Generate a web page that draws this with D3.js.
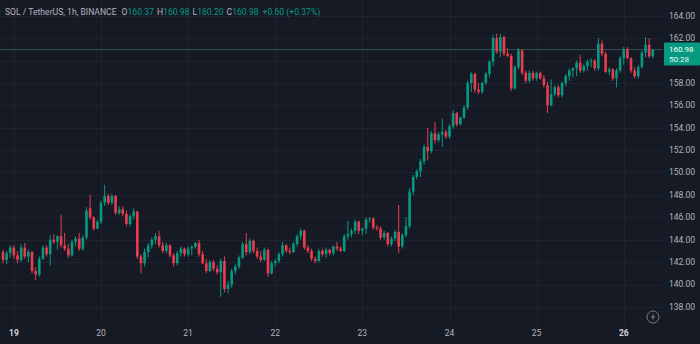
<!DOCTYPE html>
<html><head><meta charset="utf-8">
<script src="https://cdn.jsdelivr.net/npm/d3@7"></script>
<style>html,body{margin:0;padding:0;background:#161a25;overflow:hidden}svg{display:block}</style>
</head><body><svg id="c" width="700" height="344"></svg>
<script>
const startTime = "2025-05-18T21:00:00Z";
const opens = [142.9,142.2,142.8,143.3,142.6,142.2,143.3,142.5,142.9,141.2,140.9,142.3,143.3,142.7,144.0,143.8,144.3,143.5,143.2,142.6,143.8,144.1,143.2,144.2,146.8,146.0,145.0,145.6,147.3,147.9,147.3,147.9,146.4,146.7,146.3,145.4,146.1,146.5,142.5,141.9,142.9,143.5,144.0,144.3,143.5,143.0,143.5,142.6,141.9,142.8,143.2,142.7,143.2,143.35,143.7,142.7,141.9,141.2,142.0,141.4,141.1,142.1,139.6,140.0,141.2,141.6,142.4,143.6,142.9,143.9,143.0,142.5,142.2,143.1,141.0,141.9,142.1,142.7,143.5,143.0,142.9,143.6,144.3,144.8,143.3,143.0,142.3,142.1,143.0,142.7,143.1,142.8,143.4,143.2,143.0,144.3,144.5,144.8,145.6,144.8,145.0,145.8,145.9,145.1,145.0,144.2,144.6,143.6,144.1,144.7,143.4,144.4,145.2,148.3,149.6,150.1,151.0,152.3,151.9,153.5,152.9,153.4,153.6,153.2,154.1,155.3,154.3,154.9,155.8,158.0,158.8,157.4,157.2,158.0,158.8,159.9,162.0,160.8,162.1,160.6,160.4,157.5,159.4,160.9,158.9,158.2,158.9,158.4,158.9,158.4,157.8,156.0,157.0,157.6,156.9,158.0,158.6,159.1,159.3,159.8,159.1,159.5,159.9,160.0,159.3,161.5,160.6,159.0,159.2,158.4,159.1,160.2,161.0,160.2,159.1,158.6,159.4,160.7,161.4,160.37];
const highs = [143.1,143.0,143.5,143.5,143.0,143.6,143.7,143.1,143.0,141.5,142.5,143.5,143.5,144.4,144.5,144.4,146.2,144.6,143.6,144.0,144.3,144.6,144.4,146.9,148.0,146.1,145.8,147.5,148.9,148.1,148.1,148.0,147.0,147.0,146.6,146.3,146.8,146.6,142.7,143.2,143.7,144.2,144.6,144.8,143.8,143.7,143.6,142.8,143.0,143.4,143.3,143.4,143.5,143.8,144.0,143.0,142.3,142.2,142.2,141.7,142.3,142.5,140.3,141.4,141.8,142.6,143.8,144.6,144.1,144.0,143.3,143.0,143.3,143.2,142.1,142.3,142.9,143.8,143.6,143.3,143.8,144.5,145.0,144.9,143.5,143.2,142.5,143.2,143.2,143.3,143.2,143.5,143.8,143.4,144.5,145.7,145.0,145.8,145.7,145.1,146.0,146.0,146.0,145.3,145.2,144.8,144.7,144.3,144.9,147.1,144.6,146.0,148.6,149.8,150.3,151.2,152.5,154.0,153.7,154.5,153.6,154.8,153.8,154.3,155.6,155.4,155.0,156.0,158.2,159.0,158.9,158.0,158.1,159.0,160.0,162.3,162.4,162.4,162.2,161.1,160.6,159.6,161.1,161.0,159.1,159.1,159.1,159.0,159.0,158.7,158.1,158.3,157.8,157.8,158.1,158.8,159.3,159.4,160.0,160.5,159.7,160.1,160.2,160.1,162.0,161.8,160.8,159.4,159.3,159.3,160.4,161.2,161.2,160.3,159.4,159.6,160.9,162.1,162.0,160.98];
const lows = [141.9,141.8,142.4,142.3,141.9,142.0,142.3,142.0,141.0,140.4,140.7,142.2,142.5,141.7,143.6,143.1,143.3,143.0,142.4,142.5,143.4,143.0,143.0,144.0,145.8,144.8,144.9,145.4,147.0,147.1,147.1,146.2,146.2,146.1,145.2,145.2,145.8,142.3,141.0,141.6,142.4,143.2,143.6,143.3,142.8,142.8,142.4,141.6,141.7,142.5,142.5,142.5,142.6,143.2,142.5,141.8,141.0,141.1,141.2,140.9,138.9,139.3,139.2,139.7,140.9,141.4,142.3,142.6,142.7,142.8,142.3,142.0,142.1,140.7,140.9,141.6,141.9,142.5,142.8,142.7,142.8,143.4,144.0,143.1,142.8,142.1,141.9,142.0,142.5,142.4,142.6,142.6,143.0,142.9,142.9,144.0,144.2,144.5,144.5,144.4,144.5,145.5,144.9,144.8,144.0,144.0,143.4,143.4,143.9,142.8,143.2,144.2,145.0,148.0,149.4,149.6,150.7,151.1,151.7,152.6,152.7,152.3,153.0,153.0,153.9,154.1,154.2,154.8,155.6,157.2,157.1,157.0,157.0,157.8,158.5,159.5,160.6,160.3,160.4,160.3,157.3,157.4,159.2,158.7,158.0,158.0,158.2,158.2,158.3,157.6,155.3,155.9,156.8,156.7,156.7,157.7,158.2,158.5,158.6,158.9,158.9,159.1,159.4,159.1,159.1,160.4,158.9,158.7,158.2,157.6,158.9,159.6,160.1,158.9,158.4,158.4,159.3,160.3,160.2,160.20];
const closes = [142.2,142.8,143.3,142.6,142.2,143.3,142.5,142.9,141.2,140.9,142.3,143.3,142.7,144.0,143.8,144.3,143.5,143.2,142.6,143.8,144.1,143.2,144.2,146.6,146.0,145.0,145.6,147.3,147.9,147.3,147.9,146.4,146.7,146.3,145.4,146.1,146.5,142.5,141.9,142.9,143.5,144.0,144.3,143.5,143.0,143.5,142.6,141.9,142.8,143.2,142.7,143.2,143.35,143.7,142.7,141.9,141.2,142.0,141.4,141.1,142.1,139.6,140.0,141.2,141.6,142.4,143.6,142.9,143.9,143.0,142.5,142.2,143.1,141.0,141.9,142.1,142.7,143.5,143.0,142.9,143.6,144.3,144.8,143.3,143.0,142.3,142.1,143.0,142.7,143.1,142.8,143.4,143.2,143.0,144.3,144.5,144.8,145.6,144.8,145.0,145.8,145.9,145.1,145.0,144.2,144.6,143.6,144.1,144.7,143.4,144.4,145.2,148.3,149.6,150.1,151.0,152.3,151.9,153.5,152.9,153.4,153.6,153.2,154.1,155.3,154.3,154.9,155.8,158.0,158.8,157.4,157.2,158.0,158.8,159.9,162.0,160.8,162.1,160.6,160.4,157.5,159.4,160.9,158.9,158.2,158.9,158.4,158.9,158.4,157.8,156.0,157.0,157.6,156.9,158.0,158.6,159.1,159.3,159.8,159.1,159.5,159.9,160.0,159.3,161.5,160.6,159.0,159.2,158.4,159.1,160.2,161.0,160.2,159.1,158.6,159.4,160.7,161.4,160.37,160.98];
const priceTicks = [138,140,142,144,146,148,150,152,154,156,158,160,162,164];
const dayTicks = ["2025-05-19","2025-05-20","2025-05-21","2025-05-22","2025-05-23","2025-05-24","2025-05-25","2025-05-26"];
const dayLabels = ["19","20","21","22","23","24","25","26"];
const boldDays = ["19","26"];
const headerTitle = "SOL / TetherUS, 1h, BINANCE";
const ohlcLabels = ["O","H","L","C"];
const ohlcValues = ["160.37","160.98","160.20","160.98"];
const changeText = "+0.60 (+0.37%)";
const lastPrice = 160.98;
const countdown = "50:28";

const UP = "#089981", DOWN = "#eb3d4f", TXT = "#b2b5be", GRID = "#1f2330";
const FONT = "Roboto, 'Noto Sans', sans-serif";
const svg = d3.select("#c");
svg.append("rect").attr("width",700).attr("height",344).attr("fill","#161a25");

const t0 = new Date(startTime);
const data = closes.map((c,i)=>({t:new Date(t0.getTime()+i*3600e3),o:opens[i],h:highs[i],l:lows[i],c:c}));
const paneRight = 663, paneBottom = 325;
const x = d3.scaleUtc().domain([data[0].t, data[data.length-1].t]).range([3, 652.8]);
const y = d3.scaleLinear().domain([138,164]).range([306.9, 15.7]);

// grid
const g = svg.append("g");
g.selectAll(".hg").data(priceTicks).join("line")
  .attr("x1",0).attr("x2",paneRight).attr("y1",d=>Math.round(y(d))+0.5).attr("y2",d=>Math.round(y(d))+0.5)
  .attr("stroke",GRID).attr("stroke-width",1);
const dayDates = dayTicks.map(d=>new Date(d+"T00:00:00Z"));
g.selectAll(".vg").data(dayDates).join("line")
  .attr("x1",d=>Math.round(x(d))+0.5).attr("x2",d=>Math.round(x(d))+0.5).attr("y1",0).attr("y2",paneBottom)
  .attr("stroke",GRID).attr("stroke-width",1);

// price line
svg.append("line").attr("x1",0).attr("x2",paneRight).attr("y1",y(lastPrice)).attr("y2",y(lastPrice))
  .attr("stroke","#3d6f6a").attr("stroke-opacity",0.8).attr("stroke-width",0.8);

// candles
const bw = 2.6;
const cg = svg.append("g");
cg.selectAll(".w").data(data).join("line")
  .attr("x1",d=>x(d.t)).attr("x2",d=>x(d.t)).attr("y1",d=>y(d.h)).attr("y2",d=>y(d.l))
  .attr("stroke",d=>d.c>=d.o?UP:DOWN).attr("stroke-width",1);
cg.selectAll(".b").data(data).join("rect")
  .attr("x",d=>x(d.t)-bw/2).attr("width",bw)
  .attr("y",d=>y(Math.max(d.o,d.c)))
  .attr("height",d=>Math.max(1, Math.abs(y(d.o)-y(d.c))))
  .attr("fill",d=>d.c>=d.o?UP:DOWN);

// price axis labels (those hidden under the last-price box are not drawn)
const boxTop = y(lastPrice)-7, boxH = 23;
svg.selectAll(".pl").data(priceTicks.filter(d=>y(d) < boxTop-4 || y(d) > boxTop+boxH+4)).join("text")
  .attr("x",669).attr("y",d=>y(d)).attr("dy","0.35em")
  .attr("font-family",FONT).attr("font-size",8.5).attr("fill",TXT)
  .text(d=>d3.format(".2f")(d));

// last price box
svg.append("rect").attr("x",664).attr("y",boxTop).attr("width",36).attr("height",boxH).attr("fill",UP).attr("rx",1);
svg.append("text").attr("x",669).attr("y",y(lastPrice)-0.5).attr("dy","0.35em")
  .attr("font-family",FONT).attr("font-size",8).attr("fill","#ffffff").text(d3.format(".2f")(lastPrice));
svg.append("text").attr("x",669).attr("y",y(lastPrice)+9.5).attr("dy","0.35em")
  .attr("font-family",FONT).attr("font-size",8).attr("fill","#e6f4f1").text(countdown);

// time axis labels
svg.selectAll(".tl").data(dayDates).join("text")
  .attr("x",(d)=>x(d)).attr("y",333).attr("dy","0.35em").attr("text-anchor","middle")
  .attr("font-family",FONT).attr("font-size",8.5)
  .attr("font-weight",(d,i)=>boldDays.includes(dayLabels[i])?700:400)
  .attr("fill",(d,i)=>boldDays.includes(dayLabels[i])?"#d1d4dc":TXT)
  .text((d,i)=>dayLabels[i]);

// header
const ht = svg.append("text").attr("x",5).attr("y",12).attr("dy","0.35em")
  .attr("font-family",FONT).attr("font-size",8.6).attr("fill",TXT);
ht.append("tspan").text(headerTitle);
ohlcLabels.forEach((l,i)=>{
  ht.append("tspan").attr("dx",i===0?5:3).attr("fill",TXT).text(l);
  ht.append("tspan").attr("fill",UP).text(ohlcValues[i]);
});
ht.append("tspan").attr("dx",4).attr("fill",UP).text(changeText);

// lightning icon
const ic = svg.append("g").attr("transform","translate(653,317)");
ic.append("circle").attr("r",6).attr("fill","none").attr("stroke","#787b86").attr("stroke-width",1);
ic.append("path").attr("d","M1,-4 L-2.2,0.6 L0,0.6 L-1,4 L2.2,-0.8 L0,-0.8 Z").attr("fill","#787b86");
</script></body></html>
